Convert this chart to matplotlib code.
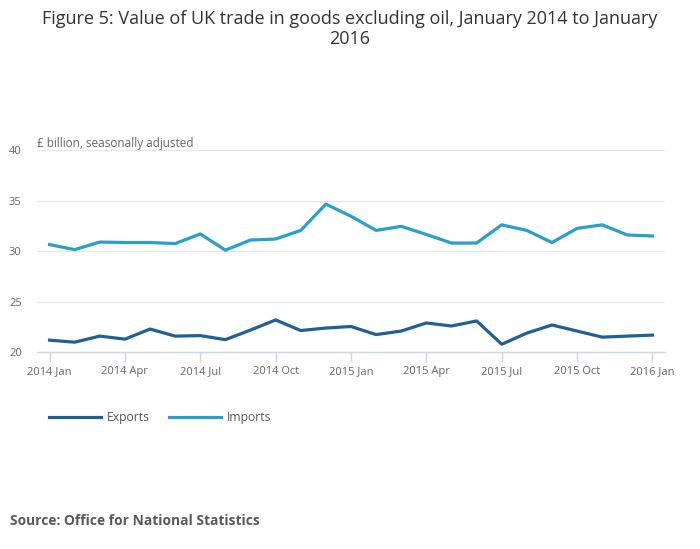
import matplotlib
matplotlib.use("Agg")
import matplotlib.pyplot as plt
from matplotlib.lines import Line2D

plt.rcParams['font.family'] = ['Open Sans', 'DejaVu Sans']

months = ["2014 Jan", "2014 Feb", "2014 Mar", "2014 Apr", "2014 May", "2014 Jun",
          "2014 Jul", "2014 Aug", "2014 Sep", "2014 Oct", "2014 Nov", "2014 Dec",
          "2015 Jan", "2015 Feb", "2015 Mar", "2015 Apr", "2015 May", "2015 Jun",
          "2015 Jul", "2015 Aug", "2015 Sep", "2015 Oct", "2015 Nov", "2015 Dec",
          "2016 Jan"]
exports = [21.2, 21.0, 21.6, 21.3, 22.3, 21.6, 21.65, 21.25, 22.2, 23.2, 22.15, 22.4,
           22.55, 21.75, 22.1, 22.9, 22.6, 23.1, 20.8, 21.9, 22.7, 22.1, 21.5, 21.6, 21.7]
imports = [30.65, 30.15, 30.9, 30.85, 30.85, 30.75, 31.7, 30.1, 31.1, 31.2, 32.05, 34.65,
           33.45, 32.05, 32.45, 31.65, 30.8, 30.8, 32.6, 32.05, 30.85, 32.25, 32.6, 31.6, 31.5]
tick_labels = ["2014 Jan", "2014 Apr", "2014 Jul", "2014 Oct", "2015 Jan",
               "2015 Apr", "2015 Jul", "2015 Oct", "2016 Jan"]
y_ticks = [20, 25, 30, 35, 40]

c_exp = "#206095"
c_imp = "#27a0cc"
grey = "#666666"

fig = plt.figure(figsize=(7.0, 5.49), dpi=100)
ax = fig.add_axes([37/700, 1-352.3/549, (665-37)/700, (352.3-150)/549])

x = list(range(len(months)))
ax.plot(x, exports, color=c_exp, lw=2.3, solid_joinstyle='round', zorder=3)
ax.plot(x, imports, color=c_imp, lw=2.3, solid_joinstyle='round', zorder=3)

ax.set_xlim(-0.5, 24.5)
ax.set_ylim(20, 40)
ax.set_yticks(y_ticks)
ax.set_yticklabels([str(v) for v in y_ticks])
tick_pos = [months.index(t) for t in tick_labels]
ax.set_xticks(tick_pos)
ax.set_xticklabels(tick_labels)

ax.grid(axis='y', color='#e6e6e6', lw=0.9)
ax.set_axisbelow(True)
for s in ['top', 'right', 'left']:
    ax.spines[s].set_visible(False)
ax.spines['bottom'].set_color('#ccd6eb')
ax.spines['bottom'].set_linewidth(1.0)
ax.tick_params(axis='x', colors='#ccd6eb', length=7, width=1, labelcolor=grey,
               labelsize=8, pad=3)
ax.tick_params(axis='y', length=0, labelcolor=grey, labelsize=8, pad=11)

fig.text(0.5, 1-29/549, "Figure 5: Value of UK trade in goods excluding oil, January 2014 to January\n2016",
         ha='center', va='center', fontsize=13, color='#333333', linespacing=1.2)
fig.text(37/700, 1-143.5/549, "£ billion, seasonally adjusted", ha='left', va='center',
         fontsize=8.5, color=grey)

handles = [Line2D([0], [0], color=c_exp, lw=2.3), Line2D([0], [0], color=c_imp, lw=2.3)]
fig.legend(handles, ["Exports", "Imports"], loc='center left',
           bbox_to_anchor=(38/700, 1-417.5/549), ncol=2, frameon=False,
           fontsize=8.7, labelcolor='#555555', handlelength=4.3, handletextpad=0.5,
           columnspacing=1.6)

fig.text(10/700, 1-521/549, "Source: Office for National Statistics", ha='left',
         va='center', fontsize=9.9, fontweight='bold', color='#595959')

fig.savefig("out.png", dpi=100)
